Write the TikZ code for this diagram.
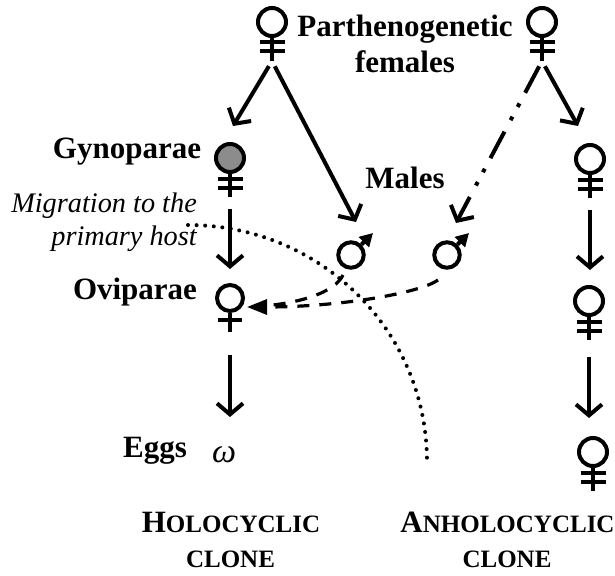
\documentclass[tikz,border=0pt]{standalone}
\usepackage{fontspec}
\setmainfont{Liberation Serif}
\usetikzlibrary{arrows.meta}
\newcommand{\capsize}{\fontsize{31}{31}\selectfont}
\newcommand{\smallsize}{\fontsize{25}{25}\selectfont}
\begin{document}
\begin{tikzpicture}[x=1pt,y=-1pt,line cap=butt,
  lbl/.style={font=\bfseries\fontsize{31}{36}\selectfont,inner sep=0pt,align=center},
  mig/.style={font=\itshape\fontsize{28.3}{33}\selectfont,inner sep=0pt,align=right},
  clonetxt/.style={font=\bfseries\smallsize,inner sep=0pt,align=center},
  ring/.style={draw,circle,line width=4pt,inner sep=0pt,minimum size=28pt},
  stem/.style={line width=4pt},
  arr/.style={line width=4pt,-{Straight Barb[length=11pt,width=26pt,line width=4pt]}},
  dasharr/.style={line width=3.2pt,dash pattern=on 12pt off 10pt,-{Triangle[length=20pt,width=15pt]}},
  dashplain/.style={line width=3.2pt,dash pattern=on 12pt off 10pt},
  dashdotarr/.style={arr,dash pattern=on 30pt off 12pt on 4pt off 11pt on 4pt off 13pt},
  migline/.style={line width=4pt,line cap=round,dash pattern=on 0pt off 8.6pt},
  pics/femtwo/.style={code={
    \node[ring,fill=#1] (-ring) at (0,0) {};
    \draw[stem] (-ring.south) -- (0,39);
    \draw[stem] (-12.5,20.5) -- (12.5,20.5) (-12.5,29.5) -- (12.5,29.5);
    \coordinate (-tail) at (0,39);}},
  pics/femone/.style={code={
    \node[ring,fill=white,minimum size=26pt] (-ring) at (0,0) {};
    \draw[stem] (-ring.south) -- (0,34);
    \draw[stem] (-12,22) -- (12,22);
    \coordinate (-tail) at (0,34);}},
  pics/maleicon/.style={code={
    \node[ring,minimum size=25.5pt] (-ring) at (0,0) {};
    \draw[stem,-{Triangle[length=13pt,width=14pt]}] (-ring.north east) -- (22,-22);}}]
  \useasboundingbox (0,0) rectangle (615,575);
  % females and males
  \pic (topL) at (272,22) {femtwo=white};
  \pic (topR) at (542,22) {femtwo=white};
  \pic (gyn) at (230,158) {femtwo={black!45}};
  \pic (rightA) at (590,159) {femtwo=white};
  \pic (ovi) at (230,298) {femone};
  \pic (rightB) at (589,301) {femtwo=white};
  \pic (rightC) at (593,452) {femtwo=white};
  \pic (maleL) at (351,255) {maleicon};
  \pic (maleR) at (447,255) {maleicon};
  % labels
  \node[lbl] (parth) at (405,44) {Parthenogenetic\\females};
  \node[lbl] (gynlab) at (127,152) {Gynoparae};
  \node[lbl] (males) at (405,178) {Males};
  \node[lbl] (ovilab) at (135,292) {Oviparae};
  \node[lbl] (eggs) at (155,451) {Eggs};
  \node[font=\itshape\fontsize{34}{34}\selectfont,inner sep=0pt] (egg) at (224,455) {ω};
  \node[mig,anchor=north east] (migr) at (197,193) {Migration to the\\primary host};
  \node[clonetxt] (holo) at (231,522) {{\capsize H}OLOCYCLIC};
  \node[clonetxt] (holob) at (230.5,559) {CLONE};
  \node[clonetxt] (anho) at (507.5,522) {{\capsize A}NHOLOCYCLIC};
  \node[clonetxt] (anhob) at (507,559) {CLONE};
  % free ends of the connectors
  \coordinate (tipGyn) at (233,126);
  \coordinate (tipMaleL) at (356,222);
  \coordinate (tipMaleR) at (456,223);
  \coordinate (tipRight) at (578,126);
  \coordinate (tipOvi) at (247,307);
  \coordinate (dashL) at (343,275);
  \coordinate (dashR) at (438,280);
  \coordinate (tipRightA) at (590,270);
  \coordinate (tipRightB) at (589,418);
  \coordinate (tipEggs) at (230,417);
  \coordinate (migStart) at (188,225);
  \coordinate (migEnd) at (427,462);
  \draw[arr,shorten <=6pt] (topL-tail) -- (tipGyn);
  \draw[arr,shorten <=6pt] (topL-tail) -- (tipMaleL);
  \draw[dashdotarr,shorten <=6pt] (topR-tail) -- (tipMaleR);
  \draw[arr,shorten <=6pt] (topR-tail) -- (tipRight);
  \draw[arr,shorten <=12pt,shorten >=14pt] (gyn-tail) -- (ovi-ring);
  \draw[arr,shorten <=23pt] (ovi-tail) -- (tipEggs);
  \draw[arr,shorten <=12pt] (rightA-tail) -- (tipRightA);
  \draw[arr,shorten <=17pt] (rightB-tail) -- (tipRightB);
  \draw[dashplain] (dashL) .. controls (335,292) and (300,305) .. (tipOvi);
  \draw[dasharr] (dashR) .. controls (420,293) and (340,307) .. (tipOvi);
  \draw[migline] (migStart) .. controls (320,225) and (427,330) .. (migEnd);
\end{tikzpicture}
\end{document}
